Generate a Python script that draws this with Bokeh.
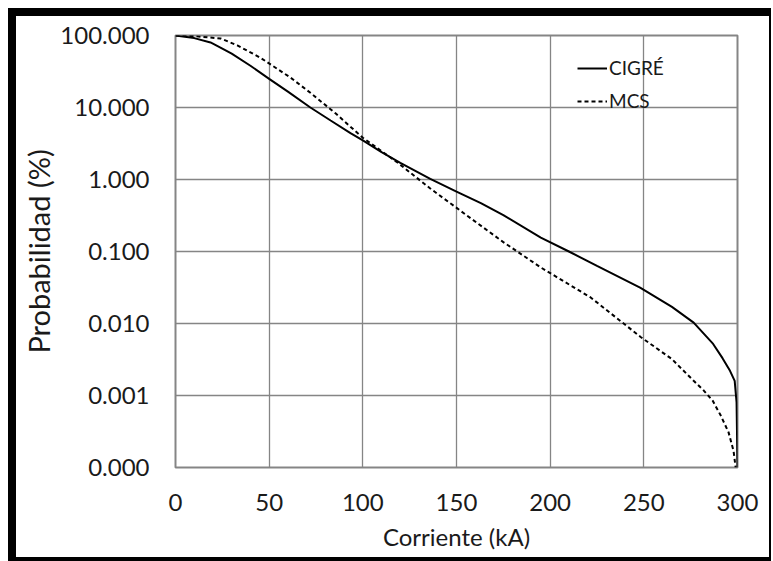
from bokeh.plotting import figure
from bokeh.models import FixedTicker, Legend, LegendItem, Range1d
from bokeh.embed import file_html
from bokeh.resources import INLINE

# CIGRÉ curve (solid)
x_cigre = [0, 10, 18.7, 24, 30, 40, 50, 60, 72, 82.8, 93.4, 100, 110, 120, 136, 150, 163,
           175, 195, 210, 225, 248, 265, 276.6, 287, 292, 296, 298.5, 299.5, 300]
y_cigre = [100, 92, 80, 68, 56, 38, 25, 16.6, 10, 6.6, 4.4, 3.5, 2.4, 1.7, 1.02, 0.68, 0.47,
           0.32, 0.156, 0.1, 0.063, 0.0316, 0.017, 0.0103, 0.0052, 0.0033, 0.0022, 0.0016, 0.0008, 0.0001]

# MCS curve (dashed)
x_mcs = [0, 10, 24, 33, 45.4, 61.4, 72, 85.4, 100, 118.5, 136, 152, 175, 195, 221.6,
         248.3, 265, 276.6, 282, 286.7, 291, 295.2, 297.9, 299]
y_mcs = [100, 98, 91, 73, 49, 26, 16, 8.3, 3.8, 1.72, 0.75, 0.37, 0.135, 0.06, 0.023,
         0.0065, 0.0032, 0.0016, 0.00117, 0.00085, 0.00053, 0.00031, 0.00017, 0.0001]

x_ticks = [0, 50, 100, 150, 200, 250, 300]
y_ticks = [0.0001, 0.001, 0.01, 0.1, 1.0, 10.0, 100.0]
y_tick_labels = ["0.000", "0.001", "0.010", "0.100", "1.000", "10.000", "100.000"]
series_labels = ["CIGRÉ", "MCS"]

FONT = "Lato"

p = figure(width=763, height=553, y_axis_type="log",
           x_range=Range1d(0, 300), y_range=Range1d(0.0001, 100),
           output_backend="svg", toolbar_location=None,
           min_border_left=159, min_border_right=42, min_border_top=19, min_border_bottom=102)
p.styles = {"margin-left": "8px", "margin-top": "8px",
            "border-left": "8px solid black", "border-top": "8px solid black",
            "border-right": "2px solid black", "border-bottom": "4px solid black"}

p.xaxis.ticker = FixedTicker(ticks=x_ticks, minor_ticks=[])
p.yaxis.ticker = FixedTicker(ticks=y_ticks, minor_ticks=[])
p.yaxis.major_label_overrides = dict(zip(y_ticks, y_tick_labels))

p.xgrid.grid_line_color = "#858585"
p.ygrid.grid_line_color = "#858585"
p.xgrid.grid_line_width = 1.3
p.ygrid.grid_line_width = 1.3
p.outline_line_color = "#858585"
p.outline_line_width = 2

for ax in (p.xaxis, p.yaxis):
    ax.axis_line_color = None
    ax.major_tick_line_color = None
    ax.minor_tick_line_color = None
    ax.major_tick_out = 0
    ax.major_tick_in = 0
    ax.minor_tick_out = 0
    ax.minor_tick_in = 0
    ax.major_label_text_font = FONT
    ax.major_label_text_font_size = "24px"
    ax.major_label_text_color = "#1a1a1a"
    ax.axis_label_text_font = FONT
    ax.axis_label_text_font_style = "normal"
    ax.axis_label_text_color = "#1a1a1a"

p.xaxis.axis_label = "Corriente (kA)"
p.xaxis.axis_label_text_font_size = "24px"
p.xaxis.major_label_standoff = 26
p.xaxis.axis_label_standoff = 8

p.yaxis.axis_label = "Probabilidad (%)"
p.yaxis.axis_label_text_font_size = "29px"
p.yaxis.major_label_standoff = 26
p.yaxis.axis_label_standoff = 1

r1 = p.line(x_cigre, y_cigre, line_color="black", line_width=2)
r2 = p.line(x_mcs, y_mcs, line_color="black", line_width=2, line_dash="4 3")

legend = Legend(items=[LegendItem(label=series_labels[0], renderers=[r1]),
                       LegendItem(label=series_labels[1], renderers=[r2])],
                location=(402, 355))
legend.background_fill_alpha = 0
legend.border_line_color = None
legend.padding = 0
legend.margin = 0
legend.spacing = 10
legend.glyph_width = 30
legend.glyph_height = 20
legend.label_height = 20
legend.label_standoff = 2
legend.label_text_font = FONT
legend.label_text_font_size = "19px"
legend.label_text_color = "#1a1a1a"
p.add_layout(legend)

open("out.html", "w").write(file_html(p, INLINE))
